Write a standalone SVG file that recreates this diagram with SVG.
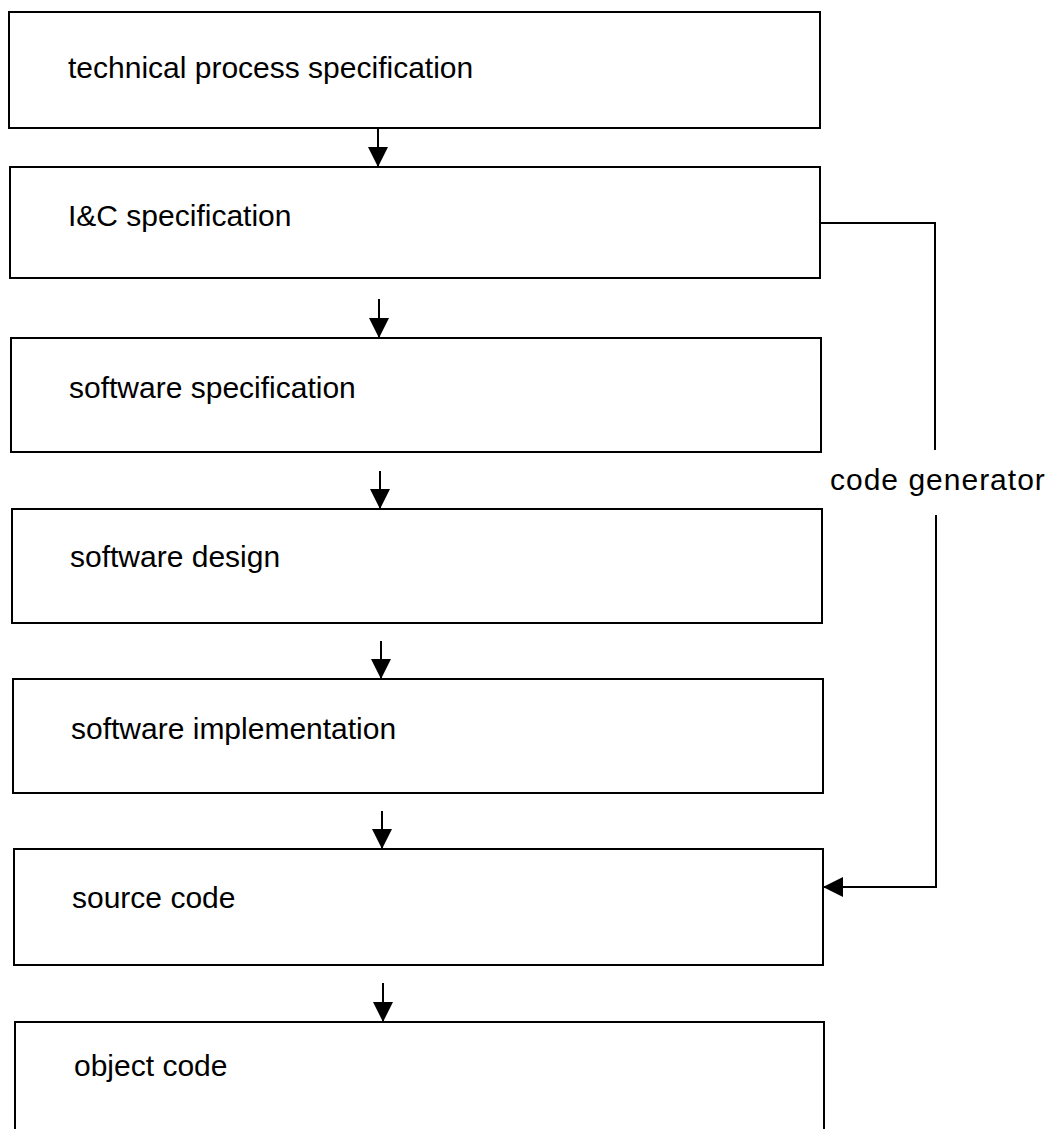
<svg xmlns="http://www.w3.org/2000/svg" width="1063" height="1129" viewBox="0 0 1063 1129">
  <defs>
    <style>
      .box { fill: none; stroke: #000; stroke-width: 2; }
      .lbl { font-family: "Liberation Sans", Arial, sans-serif; font-size: 30px; fill: #000; }
      .wire { fill: none; stroke: #000; stroke-width: 2; }
    </style>
    <marker id="head" viewBox="0 0 20 20" refX="20" refY="10" markerWidth="20" markerHeight="20" markerUnits="userSpaceOnUse" orient="auto">
      <path d="M0,0 L20,10 L0,20 Z" fill="#000"/>
    </marker>
  </defs>
  <rect width="1063" height="1129" fill="#fff"/>

  <g id="n1">
    <rect class="box" x="9" y="12" width="811" height="116"/>
    <text class="lbl" x="68" y="78">technical process specification</text>
  </g>
  <g id="n2">
    <rect class="box" x="10" y="167" width="810" height="111"/>
    <text class="lbl" x="68" y="226">I&amp;C specification</text>
  </g>
  <g id="n3">
    <rect class="box" x="11" y="338" width="810" height="114"/>
    <text class="lbl" x="69" y="398">software specification</text>
  </g>
  <g id="n4">
    <rect class="box" x="12" y="509" width="810" height="114"/>
    <text class="lbl" x="70" y="567">software design</text>
  </g>
  <g id="n5">
    <rect class="box" x="13" y="679" width="810" height="114"/>
    <text class="lbl" x="71" y="739">software implementation</text>
  </g>
  <g id="n6">
    <rect class="box" x="14" y="849" width="809" height="116"/>
    <text class="lbl" x="72" y="908">source code</text>
  </g>
  <g id="n7">
    <path class="box" d="M15,1129 V1022 H824 V1129"/>
    <text class="lbl" x="74" y="1076">object code</text>
  </g>
  <g id="n8">
    <text class="lbl" x="830" y="490" letter-spacing="1">code generator</text>
  </g>

  <g id="connectors">
    <line class="wire" x1="378" y1="128" x2="378" y2="167" marker-end="url(#head)"/>
    <line class="wire" x1="379" y1="299" x2="379" y2="338" marker-end="url(#head)"/>
    <line class="wire" x1="380" y1="471" x2="380" y2="509" marker-end="url(#head)"/>
    <line class="wire" x1="381" y1="641" x2="381" y2="679" marker-end="url(#head)"/>
    <line class="wire" x1="382" y1="811" x2="382" y2="849" marker-end="url(#head)"/>
    <line class="wire" x1="383" y1="983" x2="383" y2="1022" marker-end="url(#head)"/>
    <path class="wire" d="M820,223 H935 V450"/>
    <path class="wire" d="M936,515 V887 H823" marker-end="url(#head)"/>
  </g>
</svg>
